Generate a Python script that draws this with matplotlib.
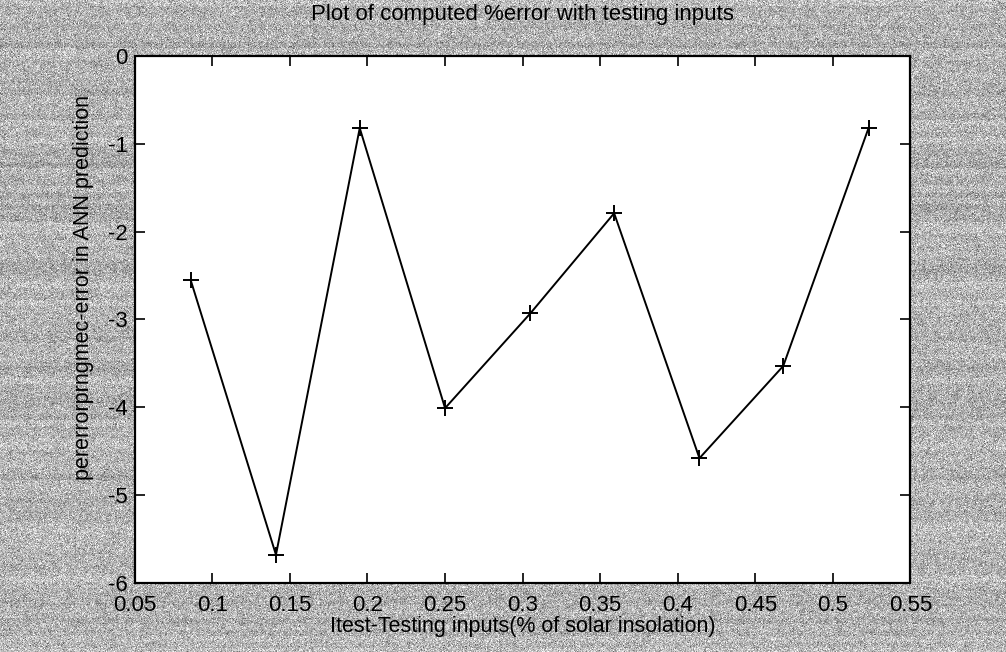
import numpy as np
import matplotlib
matplotlib.use("Agg")
import matplotlib.pyplot as plt

# Testing inputs (fraction of solar insolation) and computed % error
test_inputs = [0.086, 0.141, 0.195, 0.250, 0.305, 0.359, 0.414, 0.468, 0.523]
pct_error = [-2.55, -5.68, -0.82, -4.01, -2.93, -1.79, -4.58, -3.53, -0.82]

x_ticks = [0.05, 0.1, 0.15, 0.2, 0.25, 0.3, 0.35, 0.4, 0.45, 0.5, 0.55]
x_tick_labels = ["0.05", "0.1", "0.15", "0.2", "0.25", "0.3", "0.35", "0.4", "0.45", "0.5", "0.55"]
y_ticks = [-6, -5, -4, -3, -2, -1, 0]
y_tick_labels = ["-6", "-5", "-4", "-3", "-2", "-1", "0"]

plt.rcParams['font.family'] = ['Liberation Sans', 'DejaVu Sans']

fig = plt.figure(figsize=(10.06, 6.52), dpi=100)

# grainy grey page behind the axes
bg_ax = fig.add_axes([0, 0, 1, 1], zorder=-10)
rng = np.random.RandomState(7)
h, w = 652, 1006
streak = np.repeat(rng.normal(0, 0.025, (h // 6 + 1, 1)), 6, axis=0)[:h]
grain = 0.70 + rng.normal(0, 0.12, (h, w)) + streak
grain = np.clip(grain, 0.3, 1.0)
bg_ax.imshow(grain, cmap='gray', vmin=0, vmax=1, aspect='auto', interpolation='nearest')
bg_ax.axis('off')

ax = fig.add_axes([0.134, 0.106, 0.771, 0.808])
ax.set_facecolor('white')
ax.plot(test_inputs, pct_error, color='black', linewidth=1.4, marker='+',
        markersize=12, markeredgewidth=1.4)

ax.set_xlim(0.05, 0.55)
ax.set_ylim(-6, 0)
ax.set_xticks(x_ticks)
ax.set_xticklabels(x_tick_labels)
ax.set_yticks(y_ticks)
ax.set_yticklabels(y_tick_labels)
ax.tick_params(direction='in', top=True, right=True, length=7, width=1.2,
               labelsize=16, colors='black')
ax.tick_params(axis='x', pad=9)
ax.tick_params(axis='y', pad=5)
for s in ax.spines.values():
    s.set_linewidth(1.6)
    s.set_color('black')

ax.set_title("Plot of computed %error with testing inputs", fontsize=16, pad=26)
ax.set_xlabel("Itest-Testing inputs(% of solar insolation)", fontsize=15.5, labelpad=0)
ax.set_ylabel("pererrorprngmec-error in ANN prediction", fontsize=15.5)
ax.yaxis.set_label_coords(-0.053, 0.56)

fig.savefig("out.png", dpi=100)
